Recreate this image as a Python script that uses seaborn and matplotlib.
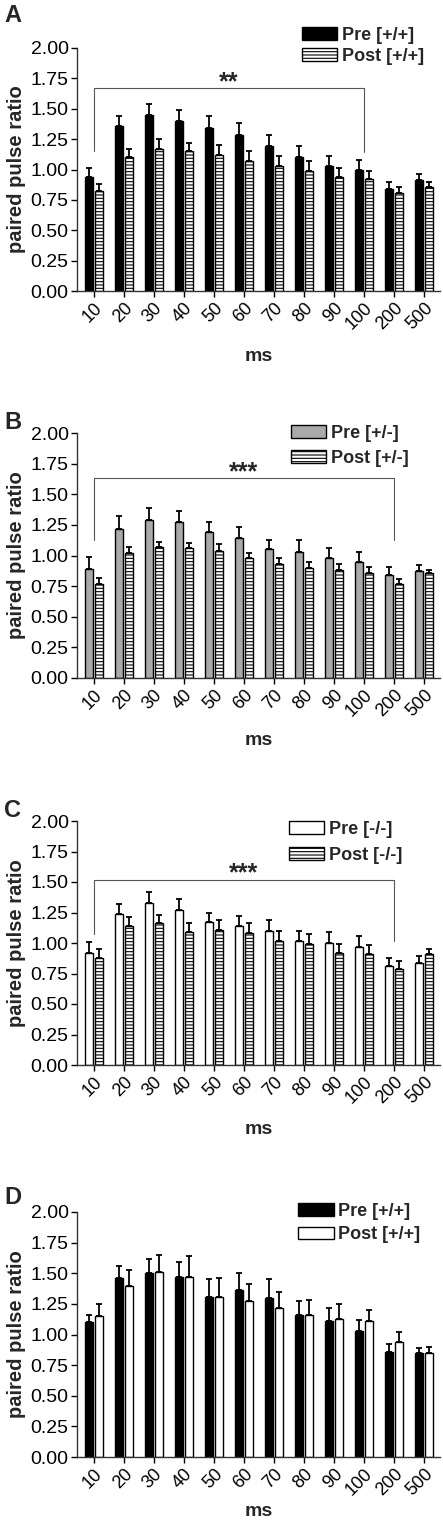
import numpy as np
import pandas as pd
import seaborn as sns
import matplotlib
matplotlib.use("Agg")
import matplotlib.pyplot as plt

# intervalos (ms)
ms = ["10", "20", "30", "40", "50", "60", "70", "80", "90", "100", "200", "500"]

# Painel A: +/+ (pre x post)
a_pre = [0.94, 1.36, 1.45, 1.40, 1.34, 1.28, 1.19, 1.10, 1.03, 1.00, 0.84, 0.91]
a_pre_err = [0.07, 0.08, 0.09, 0.09, 0.10, 0.10, 0.09, 0.09, 0.08, 0.08, 0.06, 0.05]
a_post = [0.82, 1.10, 1.17, 1.15, 1.12, 1.07, 1.03, 0.99, 0.94, 0.92, 0.81, 0.86]
a_post_err = [0.06, 0.07, 0.08, 0.07, 0.08, 0.08, 0.08, 0.08, 0.07, 0.07, 0.05, 0.04]

# Painel B: +/-
b_pre = [0.89, 1.22, 1.29, 1.27, 1.19, 1.14, 1.05, 1.03, 0.98, 0.95, 0.84, 0.87]
b_pre_err = [0.10, 0.10, 0.10, 0.09, 0.08, 0.09, 0.08, 0.10, 0.08, 0.08, 0.07, 0.05]
b_post = [0.77, 1.02, 1.07, 1.06, 1.04, 0.98, 0.93, 0.90, 0.88, 0.86, 0.77, 0.86]
b_post_err = [0.05, 0.05, 0.04, 0.04, 0.05, 0.04, 0.05, 0.05, 0.05, 0.05, 0.04, 0.02]

# Painel C: -/-
c_pre = [0.92, 1.24, 1.33, 1.27, 1.17, 1.14, 1.10, 1.02, 1.00, 0.97, 0.81, 0.84]
c_pre_err = [0.09, 0.08, 0.09, 0.09, 0.08, 0.08, 0.09, 0.08, 0.09, 0.09, 0.07, 0.05]
c_post = [0.88, 1.14, 1.16, 1.09, 1.11, 1.08, 1.02, 0.99, 0.92, 0.91, 0.79, 0.91]
c_post_err = [0.07, 0.07, 0.07, 0.07, 0.08, 0.08, 0.08, 0.08, 0.07, 0.07, 0.06, 0.04]

# Painel D: +/+ (controle)
d_pre = [1.10, 1.46, 1.50, 1.47, 1.31, 1.36, 1.30, 1.16, 1.11, 1.03, 0.86, 0.85]
d_pre_err = [0.06, 0.10, 0.12, 0.12, 0.14, 0.14, 0.15, 0.11, 0.11, 0.09, 0.06, 0.04]
d_post = [1.15, 1.40, 1.51, 1.47, 1.31, 1.27, 1.22, 1.16, 1.13, 1.11, 0.94, 0.85]
d_post_err = [0.10, 0.13, 0.14, 0.17, 0.15, 0.14, 0.13, 0.12, 0.12, 0.09, 0.08, 0.05]

# legendas
labels_a = ["Pre [+/+]", "Post [+/+]"]
labels_b = ["Pre [+/-]", "Post [+/-]"]
labels_c = ["Pre [-/-]", "Post [-/-]"]
labels_d = ["Pre [+/+]", "Post [+/+]"]

# chaves de significancia: (inicio, fim, topo, perna esq, perna dir, texto)
sig_a = (0, 9, 1.67, 1.15, 1.14, "**")
sig_b = (0, 10, 1.63, 1.13, 1.13, "***")
sig_c = (0, 10, 1.52, 1.07, 1.02, "***")

sns.set_style("ticks")
plt.rcParams["font.family"] = ["Liberation Sans", "DejaVu Sans"]
plt.rcParams["hatch.linewidth"] = 0.8

W, H = 443, 1526
fig = plt.figure(figsize=(W / 100, H / 100), dpi=100)

# letra, dados, cor, hachura, chave, topo/base do eixo (px),
# legenda (dy, x, espacamento), topo da letra, labelpad do "ms"
paineis = [
    ("A", a_pre, a_pre_err, a_post, a_post_err, labels_a, "black", "-----", sig_a, 48, 291, 21, 0.62, 0.2, 4, 11),
    ("B", b_pre, b_pre_err, b_post, b_post_err, labels_b, "#a9a9a9", "-----", sig_b, 433, 678, 8, 0.59, 0.45, 411, 9),
    ("C", c_pre, c_pre_err, c_post, c_post_err, labels_c, "white", "-----", sig_c, 821, 1065, 0, 0.584, 0.5, 799, 10),
    ("D", d_pre, d_pre_err, d_post, d_post_err, labels_d, "black", None, None, 1212, 1457, 9, 0.61, 0.35, 1186, 3),
]

for letra, pre, pre_err, post, post_err, labels, cor_pre, hatch, sig, top, bot, leg_dy, leg_x, leg_sp, let_y, xpad in paineis:
    ax = fig.add_axes([77 / W, 1 - bot / H, 363 / W, (bot - top) / H])
    df = pd.DataFrame({
        "ms": ms * 2,
        "ratio": pre + post,
        "cond": [labels[0]] * len(ms) + [labels[1]] * len(ms),
    })
    sns.barplot(data=df, x="ms", y="ratio", hue="cond", order=ms, hue_order=labels,
                palette=[cor_pre, "white"], saturation=1, width=0.66, gap=0.2,
                errorbar=None, legend=False, ax=ax)

    for cont, err, vals in zip(ax.containers, [pre_err, post_err], [pre, post]):
        xs = [p.get_x() + p.get_width() / 2 for p in cont]
        for p in cont:
            p.set_edgecolor("black")
            p.set_linewidth(1.0)
            p.set_zorder(2)
        ax.errorbar(xs, vals, yerr=[np.zeros(len(err)), err], fmt="none",
                    ecolor="black", elinewidth=1.3, capsize=2, capthick=1.3, zorder=3)
    if hatch:
        for p in ax.containers[1]:
            p.set_hatch(hatch)

    ax.set_ylim(0, 2)
    ax.set_xlim(-0.56, 11.53)
    ax.set_yticks(np.arange(0, 2.01, 0.25))
    ax.set_yticklabels([f"{v:.2f}" for v in np.arange(0, 2.01, 0.25)], fontsize=14)
    ax.set_xticks(range(len(ms)))
    ax.set_xticklabels(ms, rotation=45, ha="right", rotation_mode="anchor", fontsize=13)
    ax.tick_params(length=4, width=1, colors="black", pad=2)
    ax.set_ylabel("paired pulse ratio", fontsize=14.5, fontweight="bold", labelpad=3)
    ax.set_xlabel("ms", fontsize=14, fontweight="bold", labelpad=xpad)
    sns.despine(ax=ax)
    for s in ["left", "bottom"]:
        ax.spines[s].set_linewidth(1.0)
        ax.spines[s].set_color("#333333")

    if sig:
        i0, i1, ytop, yl, yr, txt = sig
        ax.plot([i0, i0, i1, i1], [yl, ytop, ytop, yr], color="#555555", lw=0.8, zorder=1)
        ax.text((i0 + i1) / 2, ytop - 0.05, txt, ha="center", va="bottom",
                fontsize=18, fontweight="bold")

    ax.legend(handles=list(ax.containers), labels=labels, loc="upper left",
              bbox_to_anchor=(leg_x, 1 + leg_dy / (bot - top)), frameon=False,
              borderpad=0, borderaxespad=0, handlelength=1.95, handleheight=0.72,
              handletextpad=0.25, labelspacing=leg_sp,
              prop={"weight": "bold", "size": 13})

    fig.text(4 / W, 1 - let_y / H, letra, fontsize=17, fontweight="bold", va="top", ha="left")

fig.savefig("out.png", dpi=100)
